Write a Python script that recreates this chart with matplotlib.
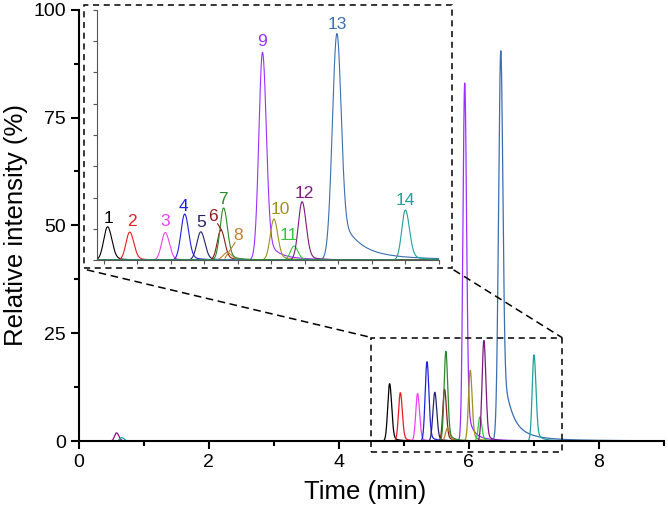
import numpy as np
import matplotlib
matplotlib.use('Agg')
import matplotlib.pyplot as plt
from matplotlib.patches import Rectangle
from matplotlib.lines import Line2D

plt.rcParams['font.family'] = ['Liberation Sans', 'DejaVu Sans']

# peak table (min, % relative intensity)
peak_ids = ['1', '2', '3', '4', '5', '6', '7', '8', '9', '10', '11', '12', '13', '14']
rt = [4.78, 4.945, 5.21, 5.355, 5.475, 5.625, 5.645, 5.67, 5.935, 6.02, 6.17, 6.23, 6.49, 7.0]
height = [13.3, 11.2, 11.0, 18.4, 11.3, 12.0, 20.8, 3.0, 83.0, 16.4, 5.6, 23.3, 90.5, 20.0]
sig_left = [0.029, 0.028, 0.028, 0.028, 0.029, 0.027, 0.027, 0.03, 0.027, 0.027, 0.027, 0.028, 0.034, 0.027]
sig_right = [0.031, 0.03, 0.03, 0.029, 0.03, 0.028, 0.028, 0.035, 0.028, 0.028, 0.028, 0.03, 0.031, 0.03]
tail_frac = [0.08, 0.08, 0.06, 0.08, 0.08, 0.1, 0.1, 0.1, 0.1, 0.1, 0.1, 0.08, 0.164, 0.1]
tail_width = [0.08, 0.08, 0.08, 0.08, 0.08, 0.08, 0.08, 0.08, 0.09, 0.08, 0.08, 0.08, 0.156, 0.09]
colors = ['#000000', '#e81c24', '#f040f0', '#2020e0', '#22226e', '#8b1c1c', '#2a8a2a',
          '#c08030', '#9b30ff', '#a09020', '#30c840', '#801880', '#3c6eb0', '#20a0a0']

# small early bumps near 0.6 min
extra_trace = [11, 13]
extra_rt = [0.58, 0.66]
extra_h = [1.9, 0.8]

# label positions inside the inset (data units)
lab_x = [4.784, 4.958, 5.207, 5.344, 5.474, 5.568, 5.643, 5.755, 5.929, 6.066, 6.133, 6.249, 6.493, 7.0]
lab_y = [16.7, 15.3, 15.3, 21.6, 14.9, 17.3, 24.4, 10.0, 87.3, 20.3, 10.0, 26.7, 94.3, 23.7]


def peak(t, t0, h, sl, sr, ft, g):
    d = t - t0
    left = np.exp(-0.5 * (d / sl) ** 2)
    right = (1 - ft) * np.exp(-0.5 * (d / sr) ** 2) + ft / (1 + (d / g) ** 2)
    return h * np.where(d < 0, left, right)


def trace(t, i):
    y = peak(t, rt[i], height[i], sig_left[i], sig_right[i], tail_frac[i], tail_width[i])
    for k, tr in enumerate(extra_trace):
        if tr == i:
            y = y + peak(t, extra_rt[k], extra_h[k], 0.03, 0.035, 0.1, 0.06)
    return y


order = [0, 1, 2, 3, 4, 5, 7, 8, 9, 10, 11, 12, 13, 6]

fig = plt.figure(figsize=(6.68, 5.14), dpi=100)
ax = fig.add_axes([0.118, 0.142, 0.876, 0.839])

t = np.linspace(0, 9, 4000)
for i in order:
    ax.plot(t, trace(t, i), color=colors[i], lw=0.9, clip_on=False)

ax.set_xlim(0, 9)
ax.set_ylim(0, 100)
ax.set_xticks([0, 2, 4, 6, 8])
ax.set_xticks([1, 3, 5, 7, 9], minor=True)
ax.set_yticks([0, 25, 50, 75, 100])
ax.set_yticks([12.5, 37.5, 62.5, 87.5], minor=True)
for s in ['top', 'right']:
    ax.spines[s].set_visible(False)
for s in ['left', 'bottom']:
    ax.spines[s].set_linewidth(1.5)
ax.tick_params(which='major', length=6, width=1.5, labelsize=14)
ax.tick_params(which='minor', length=3.5, width=1.5)
ax.set_xlabel('Time (min)', fontsize=18.5)
ax.set_ylabel('Relative intensity (%)', fontsize=18.5)
ax.yaxis.set_label_coords(-0.087, 0.5)
ax.xaxis.set_label_coords(0.49, -0.09)

# zoom box on the main axes
box_x0, box_x1, box_y0, box_y1 = 4.5, 7.43, -2.5, 24.0
ax.add_patch(Rectangle((box_x0, box_y0), box_x1 - box_x0, box_y1 - box_y0, fill=False,
                       ls=(0, (4, 3)), lw=1.1, ec='black', clip_on=False, zorder=5))

# inset frame in figure coords
fx0, fx1, fy0, fy1 = 0.126, 0.677, 0.479, 0.990
fig.patches.append(Rectangle((fx0, fy0), fx1 - fx0, fy1 - fy0, transform=fig.transFigure,
                             fill=True, fc='white', ls=(0, (4, 3)), lw=1.1, ec='black', zorder=3))

# connector lines
p_left = fig.transFigure.inverted().transform(ax.transData.transform((box_x0, box_y1)))
p_right = fig.transFigure.inverted().transform(ax.transData.transform((box_x1, box_y1)))
fig.lines.append(Line2D([fx0 + 0.004, p_left[0]], [fy0 - 0.004, p_left[1]], transform=fig.transFigure,
                        color='black', ls=(0, (5, 3)), lw=1.1))
fig.lines.append(Line2D([fx1 + 0.002, p_right[0]], [fy0 - 0.004, p_right[1]], transform=fig.transFigure,
                        color='black', ls=(0, (5, 3)), lw=1.1))

# inset
ins = fig.add_axes([0.145, 0.494, 0.512, 0.487], zorder=4)
ins.set_facecolor('none')
ti = np.linspace(4.7, 7.25, 3000)
for i in order:
    ins.plot(ti, trace(ti, i), color=colors[i], lw=0.8)
ins.set_xlim(4.7, 7.25)
ins.set_ylim(0, 100)
ins.set_xticks(np.arange(4.75, 7.26, 0.25))
ins.set_yticks(np.arange(0, 100.1, 12.5))
ins.tick_params(length=3, width=0.8, color='#555555', labelbottom=False, labelleft=False)
for s in ['top', 'right']:
    ins.spines[s].set_visible(False)
for s in ['left', 'bottom']:
    ins.spines[s].set_color('#555555')
    ins.spines[s].set_linewidth(0.8)

for i in range(len(peak_ids)):
    ins.text(lab_x[i], lab_y[i], peak_ids[i], color=colors[i], fontsize=12.5,
             ha='center', va='center')

# leader lines for 6 and 8
ins.plot([5.60, 5.63], [14.5, 12.0], color=colors[5], lw=0.8)
ins.plot([5.73, 5.655], [7.0, 0.8], color=colors[7], lw=0.8)

fig.savefig('out.png', dpi=100)
